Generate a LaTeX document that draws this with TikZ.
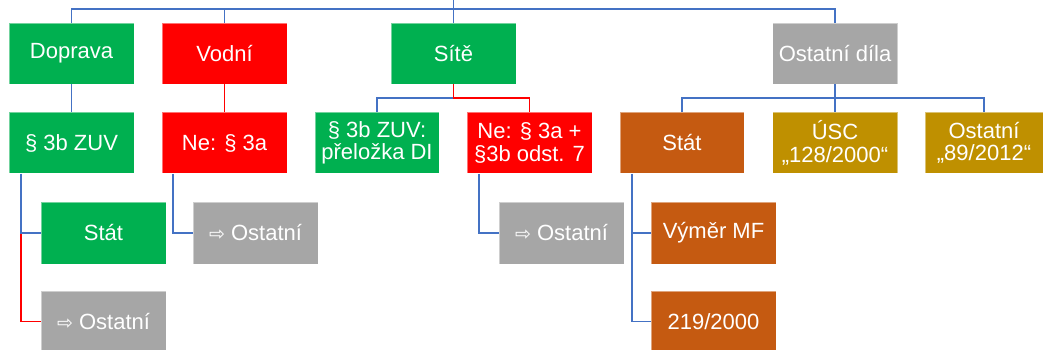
\documentclass[tikz,border=0pt]{standalone}
\usepackage{fontspec}
\setmainfont{Liberation Sans}
\newfontfamily\dejavu{DejaVu Sans}
\definecolor{cgreen}{HTML}{00B050}
\definecolor{cred}{HTML}{FF0000}
\definecolor{cgray}{HTML}{A6A6A6}
\definecolor{corange}{HTML}{C55A11}
\definecolor{cgold}{HTML}{BF9000}
\definecolor{cblue}{HTML}{4472C4}
\newcommand{\arr}{{\dejavu\fontsize{19}{19}\selectfont ⇨}}
\begin{document}
\begin{tikzpicture}[x=1pt,y=-1pt,
  box/.style={minimum width=125pt,minimum height=61pt,inner sep=1pt,text=white,align=center,
    font=\fontsize{22}{22.5}\selectfont,draw=white,draw opacity=0.45,line width=0.6pt},
  gbox/.style={box,fill=cgreen},
  rbox/.style={box,fill=cred},
  ybox/.style={box,fill=cgray},
  obox/.style={box,fill=corange},
  dbox/.style={box,fill=cgold},
  bl/.style={draw=cblue,line width=1.4pt},
  rl/.style={draw=cred,line width=1.4pt}]
\useasboundingbox (0,0) rectangle (1045,350);
% level 1
\node[gbox] (dop) at (71.5,53.5) {Doprava};
\node[rbox] (vod) at (224.5,53.5) {Vodní};
\node[gbox] (site) at (453.5,53.5) {Sítě};
\node[ybox] (ost) at (835,53.5) {Ostatní díla};
% level 2
\node[gbox] (zuv) at (71.5,143) {§ 3b ZUV};
\node[rbox] (ne) at (224.5,143) {Ne: § 3a};
\node[gbox,minimum width=124pt] (zuvdi) at (377,143) {§ 3b ZUV:\\přeložka DI};
\node[rbox] (nesit) at (529.5,143) {Ne: § 3a +\\§3b odst. 7};
\node[obox,minimum width=124pt] (stat) at (682,143) {Stát};
\node[dbox] (usc) at (835,143) {ÚSC\\„128/2000“};
\node[dbox,minimum width=118pt] (ost2) at (984,143) {Ostatní\\„89/2012“};
% level 3
\node[gbox,minimum height=62pt] (sta2) at (103.5,233) {Stát};
\node[ybox] (ost3) at (103.5,321.5) {\arr\ Ostatní};
\node[ybox,minimum height=62pt] (vodost) at (255.5,233) {\arr\ Ostatní};
\node[ybox,minimum height=62pt] (sitost) at (561.5,233) {\arr\ Ostatní};
\node[obox,minimum height=62pt] (vym) at (713.5,233) {Výměr MF};
\node[obox] (n219) at (713.5,321.5) {219/2000};
% top connectors
\coordinate (hub) at (453.5,9);
\coordinate (topend) at (453.5,0);
\draw[bl] (dop.north) |- (hub) -| (ost.north);
\draw[bl] (vod.north) -- (vod.north |- hub);
\draw[bl] (topend) -- (site.north);
% level 1 -> 2
\draw[bl] (dop.south) -- (zuv.north);
\draw[rl] (vod.south) -- (ne.north);
\coordinate (sj) at (453.5,98);
\draw[bl] (site.south) -- (sj) -| (zuvdi.north);
\draw[rl] (site.south) -- (sj) -| (nesit.north);
\coordinate (oj) at (835,98);
\draw[bl] (ost.south) -- (oj) -| (stat.north);
\draw[bl] (oj) -- (usc.north);
\draw[bl] (oj) -| (ost2.north);
% level 2 -> 3
\draw[rl] ([xshift=-50.5pt]zuv.south) |- (ost3.west);
\draw[bl] ([xshift=-50.5pt]zuv.south) |- (sta2.west);
\draw[bl] ([xshift=-51.5pt]ne.south) |- (vodost.west);
\draw[bl] ([xshift=-50.5pt]nesit.south) |- (sitost.west);
\draw[bl] ([xshift=-50pt]stat.south) |- (n219.west);
\draw[bl] ([xshift=-50pt]stat.south) |- (vym.west);
\end{tikzpicture}
\end{document}
